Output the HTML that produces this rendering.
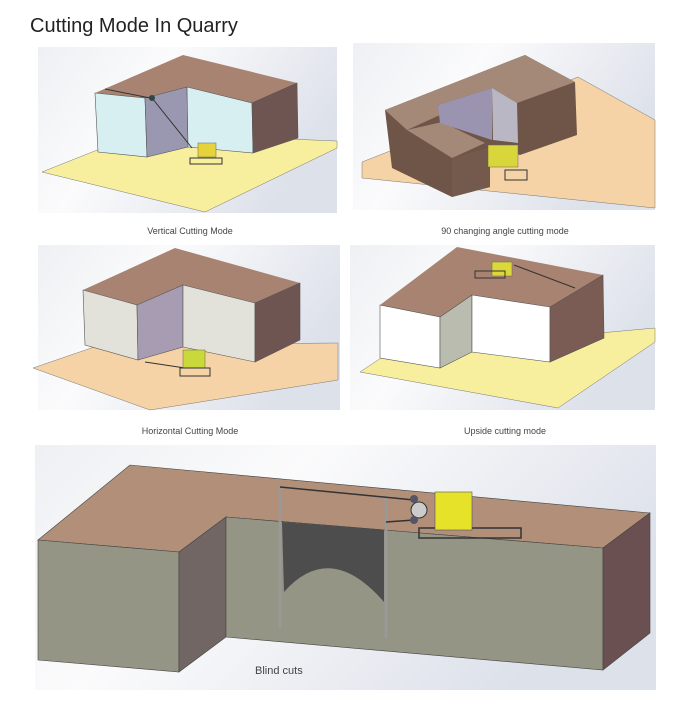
<!DOCTYPE html>
<html><head><style>
body{margin:0;background:#fff;width:680px;height:718px;overflow:hidden}
svg{display:block}
text{font-family:"Liberation Sans",sans-serif}
</style></head><body>
<svg width="680" height="718" viewBox="0 0 680 718" xmlns="http://www.w3.org/2000/svg">
<defs>
<linearGradient id="bg" x1="0" y1="0" x2="1" y2="0.4">
<stop offset="0" stop-color="#eef0f3"/><stop offset="0.4" stop-color="#fbfbfc"/><stop offset="1" stop-color="#dde1ea"/>
</linearGradient>
</defs>
<text x="30" y="32" font-size="20" fill="#222">Cutting Mode In Quarry</text>

<!-- Panel 1 -->
<rect x="38" y="47" width="299" height="166" fill="url(#bg)"/>
<polygon points="42,172 140,133 337,141 337,148 205,212" fill="#f8ef9e" stroke="#777" stroke-width="0.5"/>
<polygon points="95,93 183,55 297,83 252,103 187,87 145,98" fill="#a88371"/>
<polygon points="95,93 145,98 147,157 98,152" fill="#d8eff2" stroke="#555" stroke-width="0.6"/>
<polygon points="145,98 187,87 188,147 147,157" fill="#9a98b0" stroke="#555" stroke-width="0.6"/>
<polygon points="187,87 252,103 253,153 188,147" fill="#d8eff2" stroke="#555" stroke-width="0.6"/>
<polygon points="252,103 297,83 298,138 253,153" fill="#6f5552" stroke="#555" stroke-width="0.6"/>
<line x1="105" y1="89" x2="150" y2="98" stroke="#333"/>
<line x1="152" y1="98" x2="192" y2="148" stroke="#333"/>
<circle cx="152" cy="98" r="3" fill="#344"/>
<rect x="198" y="143" width="18" height="14" fill="#e6d23a" stroke="#665" stroke-width="0.5"/>
<rect x="190" y="158" width="32" height="6" fill="none" stroke="#333"/>

<!-- Panel 2 -->
<rect x="353" y="43" width="302" height="167" fill="url(#bg)"/>
<polygon points="362,162 578,77 655,120 655,208 362,178" fill="#f6d3a6" stroke="#777" stroke-width="0.5"/>
<polygon points="385,110 525,55 575,82 577,135 520,155 490,147 490,187 452,197 392,168" fill="#6e5548"/>
<polygon points="385,110 525,55 575,82 517,103 492,88 438,105 440,115 407,130" fill="#a48978"/>
<polygon points="407,130 442,122 485,143 452,158" fill="#a48978"/>
<polygon points="438,105 492,88 492,140 440,123" fill="#9a94b0"/>
<polygon points="492,88 517,103 518,143 493,140" fill="#b9b7c4"/>
<polygon points="452,158 490,147 490,187 452,197" fill="#735a4c"/>
<rect x="488" y="145" width="30" height="22" fill="#d8d63a" stroke="#665" stroke-width="0.5"/>
<rect x="505" y="170" width="22" height="10" fill="none" stroke="#333"/>

<!-- Panel 3 -->
<rect x="38" y="245" width="302" height="165" fill="url(#bg)"/>
<polygon points="33,368 100,345 338,343 338,380 150,410" fill="#f6d3a6" stroke="#777" stroke-width="0.5"/>
<polygon points="83,290 175,248 300,283 255,303 183,285 137,305" fill="#a88371"/>
<polygon points="83,290 137,305 138,360 85,345" fill="#e2e2da" stroke="#555" stroke-width="0.6"/>
<polygon points="137,305 183,285 183,347 138,360" fill="#a89cb3" stroke="#555" stroke-width="0.6"/>
<polygon points="183,285 255,303 255,362 183,347" fill="#e2e2da" stroke="#555" stroke-width="0.6"/>
<polygon points="255,303 300,283 300,340 255,362" fill="#6f5552" stroke="#555" stroke-width="0.6"/>
<line x1="145" y1="362" x2="185" y2="368" stroke="#333"/>
<rect x="183" y="350" width="22" height="18" fill="#c9d83a" stroke="#665" stroke-width="0.5"/>
<rect x="180" y="368" width="30" height="8" fill="none" stroke="#333"/>

<!-- Panel 4 -->
<rect x="350" y="245" width="305" height="165" fill="url(#bg)"/>
<polygon points="360,372 390,352 655,328 655,342 558,408" fill="#f8ef9e" stroke="#777" stroke-width="0.5"/>
<polygon points="380,305 457,247 603,275 550,307 472,295 440,317" fill="#a88371"/>
<polygon points="380,305 440,317 440,368 380,358" fill="#ffffff" stroke="#555" stroke-width="0.6"/>
<polygon points="440,317 472,295 472,352 440,368" fill="#b9bcae" stroke="#555" stroke-width="0.6"/>
<polygon points="472,295 550,307 550,362 472,352" fill="#ffffff" stroke="#555" stroke-width="0.6"/>
<polygon points="550,307 603,275 604,338 550,362" fill="#7a5c55" stroke="#555" stroke-width="0.6"/>
<line x1="514" y1="265" x2="575" y2="288" stroke="#333"/>
<rect x="492" y="262" width="20" height="14" fill="#dcd83a" stroke="#665" stroke-width="0.5"/>
<rect x="475" y="271" width="30" height="7" fill="none" stroke="#333"/>

<!-- captions -->
<text x="190" y="234" font-size="9" fill="#444" text-anchor="middle">Vertical Cutting Mode</text>
<text x="505" y="234" font-size="9" fill="#444" text-anchor="middle">90 changing angle cutting mode</text>
<text x="190" y="434" font-size="9" fill="#444" text-anchor="middle">Horizontal Cutting Mode</text>
<text x="505" y="434" font-size="9" fill="#444" text-anchor="middle">Upside cutting mode</text>

<!-- Bottom panel -->
<rect x="35" y="445" width="621" height="245" fill="url(#bg)"/>
<polygon points="38,540 130,465 650,513 603,548 226,517 179,552" fill="#b18f78" stroke="#444" stroke-width="0.6"/>
<polygon points="38,540 179,552 179,672 38,660" fill="#959585" stroke="#444" stroke-width="0.6"/>
<polygon points="179,552 226,517 226,637 179,672" fill="#716663" stroke="#444" stroke-width="0.6"/>
<polygon points="226,517 603,548 603,670 226,637" fill="#959585" stroke="#444" stroke-width="0.6"/>
<polygon points="603,548 650,513 650,633 603,670" fill="#6a5050" stroke="#444" stroke-width="0.6"/>
<path d="M282,522 L384,530 L384,602 Q330,540 284,592 Z" fill="#4d4d4d"/>
<line x1="280" y1="487" x2="280" y2="628" stroke="#999" stroke-width="2.5"/>
<line x1="386" y1="495" x2="386" y2="638" stroke="#999" stroke-width="2.5"/>
<line x1="280" y1="487" x2="414" y2="500" stroke="#333" stroke-width="1.5"/>
<line x1="386" y1="522" x2="414" y2="520" stroke="#333" stroke-width="1.5"/>
<rect x="419" y="528" width="102" height="10" fill="none" stroke="#333" stroke-width="1.5"/>
<rect x="435" y="492" width="37" height="38" fill="#e6e22a" stroke="#555" stroke-width="0.6"/>
<circle cx="419" cy="510" r="8" fill="#ccc" stroke="#333"/>
<circle cx="414" cy="499" r="4" fill="#556" />
<circle cx="414" cy="520" r="4" fill="#556" />
<text x="255" y="674" font-size="11" fill="#444">Blind cuts</text>
</svg>
</body></html>
